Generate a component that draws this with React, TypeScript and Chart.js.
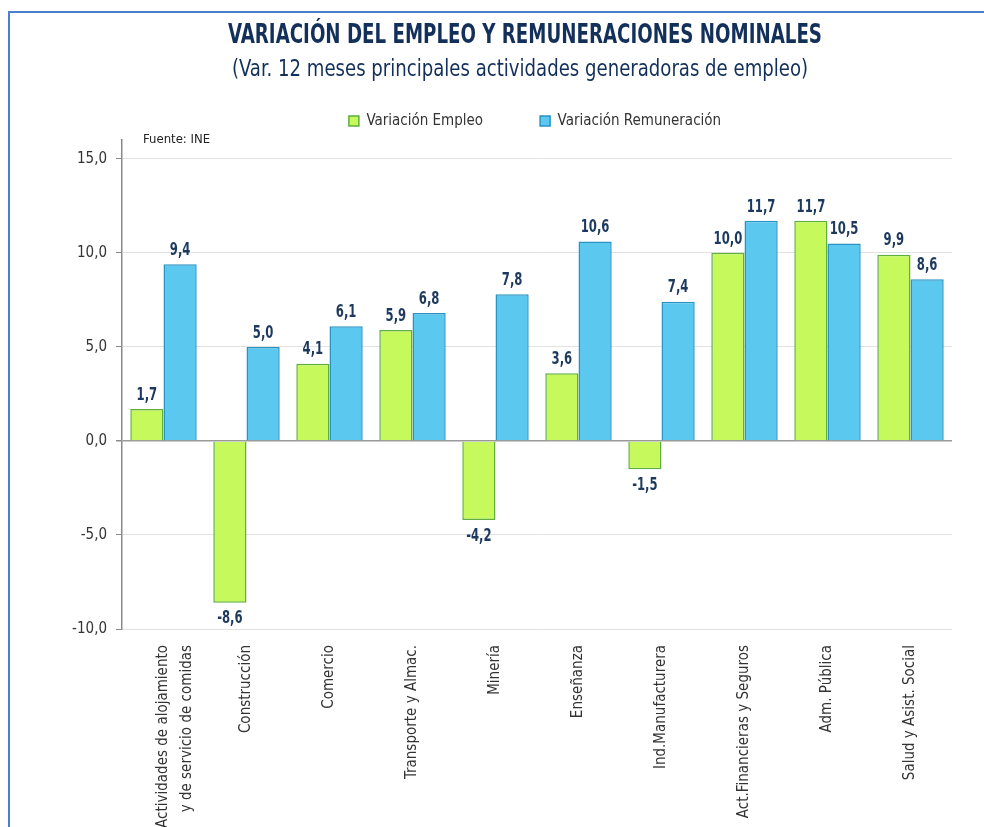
import React, { useEffect, useRef } from "react";
import { Chart, registerables } from "chart.js";

Chart.register(...registerables);

const categories: (string | string[])[] = [
  ["Actividades de alojamiento", "y de servicio de comidas"],
  "Construcción",
  "Comercio",
  "Transporte y Almac.",
  "Minería",
  "Enseñanza",
  "Ind.Manufacturera",
  "Act.Financieras y Seguros",
  "Adm. Pública",
  "Salud y Asist. Social",
];

const empleo = [1.7, -8.6, 4.1, 5.9, -4.2, 3.6, -1.5, 10.0, 11.7, 9.9];
const remuneracion = [9.4, 5.0, 6.1, 6.8, 7.8, 10.6, 7.4, 11.7, 10.5, 8.6];

const yTicks = [-10, -5, 0, 5, 10, 15];

const titleText = "VARIACIÓN DEL EMPLEO Y REMUNERACIONES NOMINALES";
const subtitleText = "(Var. 12 meses principales actividades generadoras de empleo)";
const sourceText = "Fuente: INE";

const FONT = "'DejaVu Sans Condensed', 'Liberation Sans Narrow', 'Noto Sans', sans-serif";
const NAVY = "#13305a";

const fmt = (v: number) => v.toFixed(1).replace(".", ",");

function drawCondensed(ctx: CanvasRenderingContext2D, text: string, x: number, y: number, sx: number) {
  ctx.save();
  ctx.translate(x, y);
  ctx.scale(sx, 1);
  ctx.fillText(text, 0, 0);
  ctx.restore();
}

const headerPlugin = {
  id: "headerPlugin",
  afterDraw(chart: any) {
    const ctx = chart.ctx as CanvasRenderingContext2D;
    ctx.save();
    ctx.fillStyle = NAVY;
    ctx.textAlign = "center";
    ctx.textBaseline = "middle";
    ctx.font = `bold 27px ${FONT}`;
    drawCondensed(ctx, titleText, 525, 36, 0.75);
    ctx.font = `23px ${FONT}`;
    drawCondensed(ctx, subtitleText, 520, 70, 0.875);
    ctx.font = `13px ${FONT}`;
    ctx.fillStyle = "#222";
    ctx.textAlign = "left";
    ctx.fillText(sourceText, chart.chartArea.left + 21, chart.chartArea.top);
    ctx.restore();
  },
};

const valueLabels = {
  id: "valueLabels",
  afterDatasetsDraw(chart: any) {
    const ctx = chart.ctx as CanvasRenderingContext2D;
    ctx.save();
    ctx.font = `bold 18px ${FONT}`;
    ctx.fillStyle = "#1d3a5e";
    ctx.textAlign = "center";
    chart.data.datasets.forEach((ds: any, di: number) => {
      const meta = chart.getDatasetMeta(di);
      meta.data.forEach((bar: any, i: number) => {
        const v = ds.data[i] as number;
        if (v >= 0) {
          ctx.textBaseline = "bottom";
          drawCondensed(ctx, fmt(v), bar.x, bar.y - 5, 0.72);
        } else {
          ctx.textBaseline = "top";
          drawCondensed(ctx, fmt(v), bar.x, bar.y + 7, 0.72);
        }
      });
    });
    ctx.restore();
  },
};

const noLabelClip = (scale: any) => {
  scale._computeLabelArea = () => undefined;
};

export default function App() {
  const ref = useRef<HTMLCanvasElement | null>(null);

  useEffect(() => {
    if (!ref.current) return;
    const chart = new Chart(ref.current, {
      type: "bar",
      data: {
        labels: categories,
        datasets: [
          {
            label: "Variación Empleo",
            data: empleo,
            backgroundColor: "#c6f95b",
            borderColor: "#5fae3e",
            borderWidth: 1.5,
            categoryPercentage: 0.8,
            barPercentage: 1.0,
          },
          {
            label: "Variación Remuneración",
            data: remuneracion,
            backgroundColor: "#5bc8f0",
            borderColor: "#2a93c2",
            borderWidth: 1.5,
            categoryPercentage: 0.8,
            barPercentage: 1.0,
          },
        ],
      },
      options: {
        animation: false,
        responsive: false,
        maintainAspectRatio: false,
        layout: { padding: { left: 100, right: 14, top: 56.5, bottom: 0 } },
        plugins: {
          title: { display: false },
          // small spacer between the legend and the plot area
          subtitle: {
            display: true,
            text: " ",
            weight: 500,
            font: { size: 0.5, lineHeight: 1 },
            padding: { top: 1, bottom: 0 },
          },
          legend: {
            display: true,
            position: "top",
            labels: {
              boxWidth: 10,
              boxHeight: 10,
              padding: 57,
              color: "#333",
              font: { family: FONT, size: 15 },
            },
          },
          tooltip: { enabled: false },
        },
        scales: {
          x: {
            grid: { display: false },
            border: { display: false },
            ticks: {
              color: "#333",
              font: { family: FONT, size: 15, lineHeight: 1.55 },
              maxRotation: 90,
              minRotation: 90,
              padding: 8,
              autoSkip: false,
            },
            afterDataLimits: noLabelClip,
            afterFit(scale: any) {
              scale.height = 198;
            },
          },
          y: {
            min: -10,
            max: 16,
            afterDataLimits: noLabelClip,
            afterBuildTicks(scale: any) {
              scale.ticks = yTicks.map((v) => ({ value: v }));
            },
            ticks: {
              color: "#333",
              font: { family: FONT, size: 15 },
              padding: 9,
              callback: (v: any) => fmt(Number(v)),
            },
            grid: {
              color: (c: any) => (c.tick && c.tick.value === 0 ? "#9a9a9a" : "#e2e2e2"),
              lineWidth: (c: any) => (c.tick && c.tick.value === 0 ? 1.5 : 1),
              tickColor: "#8a8a8a",
              tickLength: 6,
            },
            border: { display: true, color: "#8a8a8a", width: 1.5 },
            afterFit(scale: any) {
              scale.width = 22;
            },
          },
          yRight: {
            type: "linear",
            position: "right",
            display: true,
            grid: { display: false },
            border: { display: false },
            ticks: { display: false },
            afterFit(scale: any) {
              scale.width = 18;
            },
          },
        },
      },
      plugins: [valueLabels, headerPlugin],
    });
    return () => chart.destroy();
  }, []);

  return (
    <div style={{ position: "fixed", left: 0, top: 0, width: 984, height: 827, overflow: "hidden", background: "#fff" }}>
      <div
        style={{
          position: "absolute",
          left: 8,
          top: 11,
          width: 1000,
          height: 900,
          borderTop: "2px solid #4a80c9",
          borderLeft: "2px solid #4a80c9",
        }}
      />
      <canvas ref={ref} width={984} height={827} style={{ position: "absolute", left: 0, top: 0, width: 984, height: 827 }} />
    </div>
  );
}
